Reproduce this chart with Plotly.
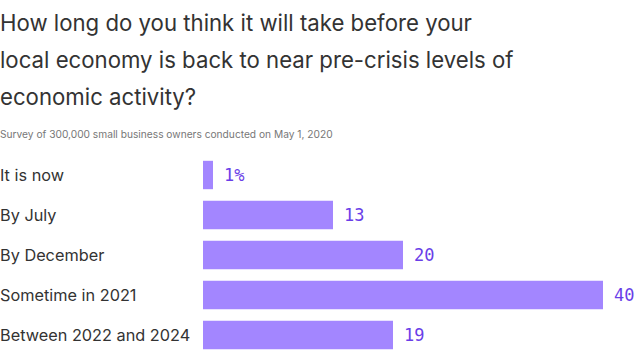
import plotly.graph_objects as go

categories = ["It is now", "By July", "By December", "Sometime in 2021", "Between 2022 and 2024"]
values = [1, 13, 20, 40, 19]
value_labels = ["1%", "13", "20", "40", "19"]

title_lines = [
    "How long do you think it will take before your",
    "local economy is back to near pre-crisis levels of",
    "economic activity?",
]
subtitle = "Survey of 300,000 small business owners conducted on May 1, 2020"

W, H = 640, 361
L, R, T, B = 203, 0, 155, 6
plot_w = W - L - R
plot_h = H - T - B

fig = go.Figure(go.Bar(
    x=values, y=categories, orientation="h",
    marker=dict(color="#a386ff", line=dict(width=0)),
    hoverinfo="skip",
))

ann = []
for c, v, t in zip(categories, values, value_labels):
    ann.append(dict(x=v, y=c, xref="x", yref="y", text=t, showarrow=False,
                    xanchor="left", yanchor="middle", xshift=9,
                    font=dict(family="DejaVu Sans Mono", size=17, color="#6a3ee8")))
    ann.append(dict(x=-L / plot_w, y=c, xref="paper", yref="y", text=c, showarrow=False,
                    xanchor="left", yanchor="middle", xshift=-2,
                    font=dict(family="Inter", size=16.3, color="#333333")))

title_y = [22, 59, 96]
for line, yy in zip(title_lines, title_y):
    ann.append(dict(x=-L / plot_w, y=1 + (T - yy) / plot_h, xref="paper", yref="paper",
                    text=line, showarrow=False, xanchor="left", yanchor="middle", xshift=-2,
                    font=dict(family="Inter", size=22.2, color="#333333")))
ann.append(dict(x=-L / plot_w, y=1 + (T - 134) / plot_h, xref="paper", yref="paper",
                text=subtitle, showarrow=False, xanchor="left", yanchor="middle", xshift=-2,
                font=dict(family="Inter", size=10.2, color="#777777")))

fig.update_layout(
    width=W, height=H,
    margin=dict(l=L, r=R, t=T, b=B),
    paper_bgcolor="white", plot_bgcolor="white",
    showlegend=False,
    bargap=0.29,
    xaxis=dict(range=[0, plot_w / 10], visible=False, fixedrange=True),
    yaxis=dict(autorange="reversed", showticklabels=False, showgrid=False,
               zeroline=False, fixedrange=True),
    annotations=ann,
)

fig.write_html("out.html", config={"displayModeBar": False},
               post_script="document.body.style.margin='0';document.body.style.padding='0';")
